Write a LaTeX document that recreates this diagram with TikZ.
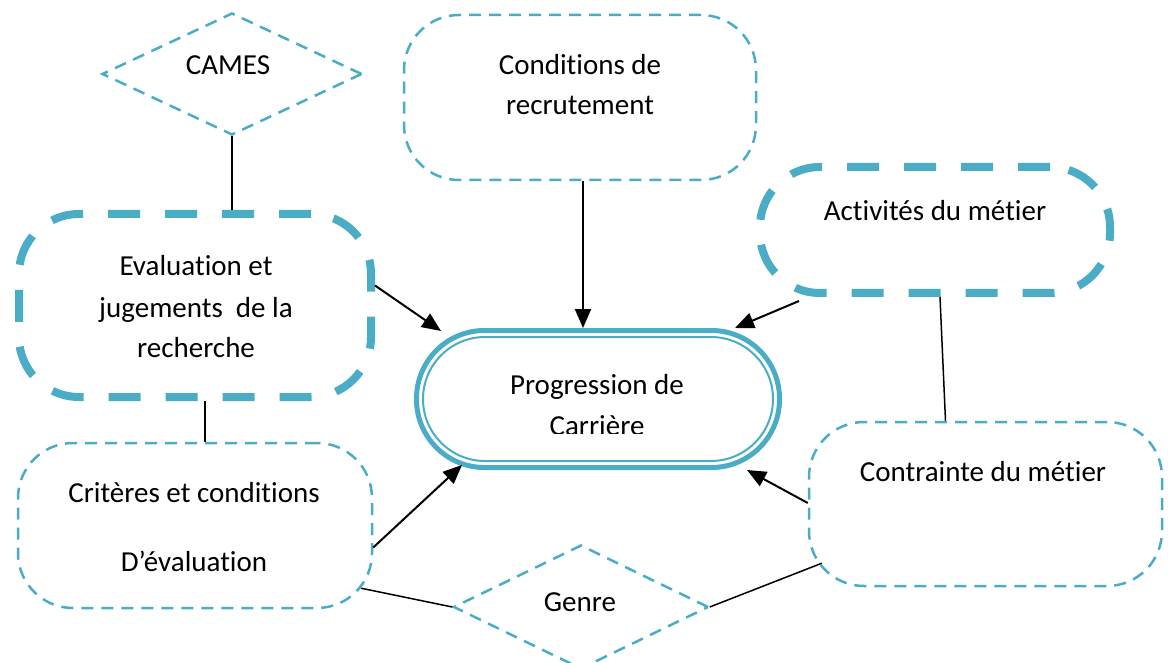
\documentclass[tikz,border=0pt]{standalone}
\usepackage{fontspec}
\setmainfont{Carlito}[Ligatures={NoCommon,NoContextual,NoRequired}, Contextuals=NoAlternate]
\usetikzlibrary{positioning}
\usetikzlibrary{shapes.geometric}
\usetikzlibrary{arrows.meta}
\usetikzlibrary{calc}
\definecolor{boxblue}{HTML}{4BACC6}

\begin{document}
\begin{tikzpicture}[x=1pt, y=-1pt,
    thinbox/.style={draw=boxblue, line width=2.5pt, dash pattern=on 12pt off 8pt,
        rectangle, rounded corners=55pt, inner sep=0pt},
    thickbox/.style={draw=boxblue, line width=8pt, dash pattern=on 32pt off 25pt,
        rectangle, rounded corners=60pt, inner sep=0pt},
    choice/.style={draw=boxblue, line width=2.5pt, dash pattern=on 12pt off 8pt,
        diamond, inner sep=0pt},
    progbox/.style={draw=boxblue, rectangle, inner sep=0pt},
    txt/.style={anchor=base, inner sep=0pt, font=\fontsize{29}{35}\selectfont},
    link/.style={line width=1.5pt},
    feed/.style={line width=2pt, -{Triangle[length=19pt,width=16pt]}}]
    \useasboundingbox (0, 0) rectangle (1168, 663);

    \path (232, 74) node [choice, minimum width=260pt, minimum height=122pt] (cames) {};
    \path (228, 75) node [txt] (camestxt) {CAMES};

    \path (580, 97.5) node [thinbox, minimum width=352pt, minimum height=165pt] (cond) {};
    \path (580, 75) node [txt] (condtxt1) {Conditions de};
    \path (580, 115) node [txt] (condtxt2) {recrutement};

    \path (935, 230) node [thickbox, minimum width=350pt, minimum height=126pt] (act) {};
    \path (935, 221) node [txt] (acttxt) {Activités du métier};

    \path (195, 305.5) node [thickbox, minimum width=352pt, minimum height=183pt] (eval) {};
    \path (196, 276) node [txt] (evaltxt1) {Evaluation et};
    \path (196, 317) node [txt] (evaltxt2) {jugements\ \ de la};
    \path (196, 357) node [txt] (evaltxt3) {recherche};

    \path (598, 399) node [progbox, line width=5pt, rounded corners=68pt,
        minimum width=363pt, minimum height=137pt] (prog) {};
    \path (prog.center) node [progbox, line width=2pt, rounded corners=62pt,
        minimum width=350pt, minimum height=124pt] (progin) {};
    \path (597, 394) node [txt] (progtxt1) {Progression de};
    \begin{scope}
        \clip (420, 380) rectangle (780, 433);
        \path (597, 435) node [txt] (progtxt2) {Carrière};
    \end{scope}

    \path (195, 525.5) node [thinbox, minimum width=354pt, minimum height=165pt] (crit) {};
    \path (194, 502) node [txt] (crittxt1) {Critères et conditions};
    \path (194, 571) node [txt] (crittxt2) {D’évaluation};

    \path (985.5, 504) node [thinbox, minimum width=353pt, minimum height=164pt] (cont) {};
    \path (983, 481) node [txt] (conttxt) {Contrainte du métier};

    \path (581, 607) node [choice, minimum width=255pt, minimum height=124pt] (genre) {};
    \path (580, 611) node [txt] (genretxt) {Genre};

    % links
    \draw [link] (cames.south) -- (cames.south |- eval.north);
    \draw [link] ([xshift=10pt]eval.south) -- ([xshift=10pt]crit.north);
    \draw [link] ([xshift=5pt]act.south) -- ([xshift=-40pt]cont.north);
    \draw [link] ($(crit.south east)+(-12,-21)$) -- (genre.west);
    \draw [link] (genre.east) -- ($(cont.south west)+(14,-24)$);

    % arrows into the centre
    \draw [feed] ([xshift=3pt]cond.south) -- ([xshift=3pt]cond.south |- prog.north);
    \draw [feed] ($(eval.east)+(0,-20)$) -- ($(prog.north west)+(27,3)$);
    \draw [feed] ($(act.south west)+(43,4)$) -- ($(prog.north east)+(-47,0)$);
    \draw [feed] ($(crit.east)+(0,22)$) -- ($(prog.south west)+(48,-5)$);
    \draw [feed] ($(cont.west)+(0,-1)$) -- ($(prog.south east)+(-35,0)$);
\end{tikzpicture}
\end{document}
